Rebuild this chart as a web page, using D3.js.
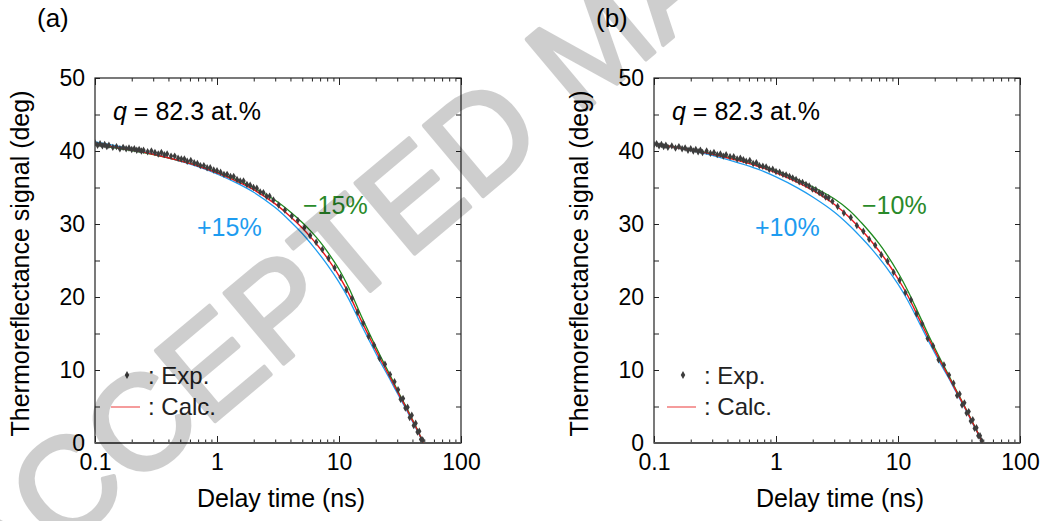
<!DOCTYPE html>
<html><head><meta charset="utf-8">
<script src="https://cdn.jsdelivr.net/npm/d3@7"></script>
<style>
body{margin:0;background:#fff}
svg{display:block}
text{font-family:"Liberation Sans",Arial,Helvetica,sans-serif}
</style>
</head><body>
<svg id="chart" width="1045" height="521"></svg>
<script>
// ---------- data ----------
const panelLabels = ["(a)", "(b)"];
const xTickValues = [0.1, 1, 10, 100];
const xTickLabels = ["0.1", "1", "10", "100"];
const yTickValues = [0, 10, 20, 30, 40, 50];
const yTickLabels = ["0", "10", "20", "30", "40", "50"];
const xTitle = "Delay time (ns)";
const yTitle = "Thermoreflectance signal (deg)";
const compositionText = " = 82.3 at.%";
const plusLabels = ["+15%", "+10%"];
const minusLabels = ["\u221215%", "\u221210%"];
const legendLabels = [": Exp.", ": Calc."];
const watermarkText = "ACCEPTED MANUSCRIPT";

// delay times (ns) of the measured points
const expTime = [0.100,0.105,0.110,0.115,0.120,0.125,0.130,0.140,0.150,0.160,0.170,0.180,0.190,0.200,0.210,0.220,0.230,0.240,0.250,0.270,0.290,0.310,0.330,0.350,0.370,0.390,0.420,0.450,0.480,0.510,0.540,0.570,0.610,0.650,0.690,0.730,0.780,0.830,0.880,0.940,1.00,1.07,1.14,1.21,1.29,1.37,1.46,1.55,1.65,1.76,1.87,1.99,2.12,2.26,2.40,2.55,2.70,2.90,3.20,3.60,4.10,4.60,5.20,5.80,6.50,7.30,8.20,9.20,10.3,11.5,12.8,14.2,15.8,17.5,19.4,21.5,23.8,26.2,28.5,30.5,32.0,33.5,35.0,36.5,38.0,39.5,41.0,42.5,44.0,45.5,47.0,48.5];
// measured signal (deg), panel (a)
const expA = [41.1,40.8,41.0,40.7,40.9,40.6,40.8,40.5,40.6,40.3,40.5,40.3,40.4,40.2,40.3,40.1,40.2,40.0,40.1,39.9,40.0,39.8,39.6,39.8,39.5,39.6,39.3,39.3,39.0,38.9,38.9,38.6,38.7,38.4,38.3,38.0,38.0,37.7,37.7,37.4,37.3,37.1,36.8,36.8,36.5,36.5,36.1,35.9,35.9,35.4,35.3,35.0,34.9,34.4,34.3,33.8,33.8,33.3,32.6,31.9,31.1,30.5,29.5,28.4,27.5,26.5,25.3,24.0,22.7,21.0,19.8,17.9,16.4,14.6,13.4,11.6,10.8,9.4,8.4,7.3,6.0,6.1,4.8,4.9,3.5,3.8,2.4,2.7,1.5,1.6,0.5,0.4];
// measured signal (deg), panel (b)
const expB = [40.9,41.0,40.7,40.9,40.6,40.8,40.5,40.7,40.4,40.6,40.3,40.4,40.1,40.3,40.0,40.2,39.9,40.1,39.8,40.0,39.7,39.8,39.5,39.6,39.3,39.5,39.2,39.2,38.9,39.0,38.8,38.6,38.7,38.3,38.4,38.0,37.9,37.8,37.5,37.5,37.2,37.1,36.8,36.7,36.5,36.3,36.1,35.8,35.7,35.4,35.2,34.8,34.7,34.3,34.1,33.7,33.6,33.1,32.4,31.5,30.9,29.8,29.0,27.9,27.1,25.8,24.9,23.4,22.3,20.6,19.6,17.7,16.3,14.3,13.3,11.4,10.7,9.3,8.2,6.5,6.7,5.2,5.5,4.1,4.3,3.0,3.2,2.0,2.1,1.0,1.0,0.3];

// calculated curves
const calcTime = [0.1,0.15,0.2,0.3,0.5,0.7,1,1.5,2,3,4,5,6,7,8,10,12,15,18,22,26,30,35,40,45,49];
const calcA  = [41.0,40.5,40.15,39.55,38.65,37.95,37.0,35.75,34.7,32.75,31.0,29.45,28.0,26.65,25.35,22.9,20.5,17.0,14.3,11.4,9.1,7.1,5.0,3.1,1.4,0.0];
const plusA  = [41.25,40.7,40.3,39.6,38.6,37.85,36.85,35.5,34.35,32.25,30.35,28.7,27.15,25.75,24.45,22.05,19.75,16.4,13.8,11.0,8.8,6.85,4.8,2.95,1.3,-0.05];
const minusA = [40.85,40.38,40.05,39.5,38.65,38.0,37.1,35.95,35.0,33.25,31.65,30.2,28.85,27.55,26.25,23.8,21.3,17.65,14.8,11.8,9.4,7.3,5.15,3.2,1.45,0.0];
const calcB  = [41.0,40.5,40.15,39.55,38.65,37.95,37.0,35.7,34.6,32.7,30.9,29.2,27.7,26.3,25.0,22.5,20.2,16.9,14.2,11.35,9.1,7.1,5.0,3.1,1.4,0.0];
const plusB  = [41.05,40.5,40.1,39.4,38.35,37.55,36.45,34.95,33.7,31.65,29.8,28.15,26.7,25.35,24.1,21.75,19.55,16.4,13.8,11.05,8.9,6.95,4.9,3.0,1.35,-0.05];
const minusB = [41.0,40.52,40.2,39.65,38.8,38.15,37.3,36.1,35.1,33.45,31.85,30.2,28.7,27.3,25.95,23.35,20.9,17.45,14.6,11.65,9.3,7.25,5.1,3.15,1.45,0.0];

// ---------- drawing ----------
const svg = d3.select("#chart");
const W = 1045, H = 521;
svg.append("rect").attr("width", W).attr("height", H).attr("fill", "#fff");

const panels = [
  {left: 95,  exp: expA, calc: calcA, plus: plusA, minus: minusA},
  {left: 654, exp: expB, calc: calcB, plus: plusB, minus: minusB}
];
const plotTop = 78, plotBottom = 443, pw = 366;
const colors = {exp: "#3d3d3d", calc: "#e8141c", plus: "#1e9cf0", minus: "#1e8a1e", legendLine: "#ee5a5a"};

const minorTicks = [];
[0.1, 1, 10].forEach(d => { for (let k = 2; k <= 9; k++) minorTicks.push(+(d * k).toPrecision(3)); });
const yMinor = [5, 15, 25, 35, 45];

panels.forEach((p, i) => {
  const x = d3.scaleLog().domain([0.1, 100]).range([p.left, p.left + pw]);
  const y = d3.scaleLinear().domain([0, 50]).range([plotBottom, plotTop]);
  const g = svg.append("g");

  const clipId = "clip" + i;
  svg.append("clipPath").attr("id", clipId).append("rect")
    .attr("x", p.left).attr("y", plotTop).attr("width", pw).attr("height", plotBottom - plotTop);

  // axes (inward ticks)
  g.append("g").attr("transform", `translate(0,${plotBottom})`)
    .call(d3.axisBottom(x).tickValues(xTickValues).tickFormat((d, k) => xTickLabels[k]).tickSizeInner(-7).tickSizeOuter(0).tickPadding(11));
  g.append("g").attr("transform", `translate(0,${plotBottom})`)
    .call(d3.axisBottom(x).tickValues(minorTicks).tickFormat("").tickSizeInner(-3.5).tickSizeOuter(0));
  g.append("g").attr("transform", `translate(0,${plotTop})`)
    .call(d3.axisTop(x).tickValues(xTickValues).tickFormat("").tickSizeInner(-7).tickSizeOuter(0));
  g.append("g").attr("transform", `translate(0,${plotTop})`)
    .call(d3.axisTop(x).tickValues(minorTicks).tickFormat("").tickSizeInner(-3.5).tickSizeOuter(0));
  g.append("g").attr("transform", `translate(${p.left},0)`)
    .call(d3.axisLeft(y).tickValues(yTickValues).tickFormat((d, k) => yTickLabels[k]).tickSizeInner(-5).tickSizeOuter(0).tickPadding(10));
  g.append("g").attr("transform", `translate(${p.left},0)`)
    .call(d3.axisLeft(y).tickValues(yMinor).tickFormat("").tickSizeInner(-5).tickSizeOuter(0));
  g.append("g").attr("transform", `translate(${p.left + pw},0)`)
    .call(d3.axisRight(y).tickValues(yTickValues.concat(yMinor)).tickFormat("").tickSizeInner(-5).tickSizeOuter(0));

  g.selectAll(".domain").remove();
  g.selectAll(".tick line").attr("stroke", "#222").attr("stroke-width", 1);
  g.selectAll(".tick text").attr("font-size", 23).attr("fill", "#000")
    .style("font-family", '"Liberation Sans",Arial,sans-serif');

  // frame
  g.append("rect").attr("x", p.left).attr("y", plotTop).attr("width", pw).attr("height", plotBottom - plotTop)
    .attr("fill", "none").attr("stroke", "#222").attr("stroke-width", 1.2);
  g.append("line").attr("x1", p.left).attr("x2", p.left + pw).attr("y1", plotBottom).attr("y2", plotBottom)
    .attr("stroke", "#555").attr("stroke-width", 2);

  // curves
  const mk = d3.line().x(d => x(d[0])).y(d => y(d[1])).curve(d3.curveCatmullRom.alpha(0.5));
  const dg = g.append("g").attr("clip-path", `url(#${clipId})`);
  [["plus", p.plus], ["minus", p.minus], ["calc", p.calc]].forEach(([key, arr]) => {
    dg.append("path").datum(calcTime.map((t, k) => [t, arr[k]]))
      .attr("d", mk).attr("fill", "none").attr("stroke", colors[key])
      .attr("stroke-width", key === "calc" ? 1.4 : 1.3);
  });
  // measured points
  const sym = d3.symbol().type(d3.symbolDiamond).size(16);
  dg.selectAll("path.pt").data(expTime.map((t, k) => [t, p.exp[k]])).enter()
    .append("path").attr("class", "pt").attr("d", sym)
    .attr("transform", d => `translate(${x(d[0])},${y(d[1])})`)
    .attr("fill", colors.exp);

  // texts
  svg.append("text").attr("x", p.left - 58).attr("y", 27).attr("font-size", 26).text(panelLabels[i]);
  svg.append("text").attr("x", p.left + pw / 2 + 3).attr("y", 507).attr("text-anchor", "middle")
    .attr("font-size", 25).text(xTitle);
  svg.append("text").attr("transform", `translate(${p.left - 66},${(plotTop + plotBottom) / 2 + 3}) rotate(-90)`)
    .attr("text-anchor", "middle").attr("font-size", 25).text(yTitle);
  const qt = svg.append("text").attr("x", p.left + 18).attr("y", 120).attr("font-size", 25);
  qt.append("tspan").attr("font-style", "italic").text("q");
  qt.append("tspan").text(compositionText);
  svg.append("text").attr("x", p.left + 102 + (i ? -1 : 0)).attr("y", 236).attr("font-size", 25)
    .attr("fill", colors.plus).text(plusLabels[i]);
  svg.append("text").attr("x", p.left + 208).attr("y", 214).attr("font-size", 25)
    .attr("fill", "#2a8a2a").text(minusLabels[i]);

  // legend
  const lx = p.left + (i ? 29 : 32);
  svg.append("path").attr("d", d3.symbol().type(d3.symbolDiamond).size(18))
    .attr("transform", `translate(${lx},375)`).attr("fill", colors.exp);
  svg.append("line").attr("x1", lx - 16).attr("x2", lx + 13).attr("y1", 407).attr("y2", 407)
    .attr("stroke", colors.legendLine).attr("stroke-width", 1.2);
  svg.append("text").attr("x", lx + 21).attr("y", 384).attr("font-size", 24).attr("fill", "#222").text(legendLabels[0]);
  svg.append("text").attr("x", lx + 21).attr("y", 415).attr("font-size", 24).attr("fill", "#222").text(legendLabels[1]);
});

// watermark (light grey, over the figure)
svg.append("g").attr("opacity", 0.19)
  .append("text").attr("transform", "translate(-10,610) rotate(-40)")
  .attr("font-size", 134).attr("fill", "#000").attr("stroke", "#000").attr("stroke-width", 4)
  .attr("stroke-linejoin", "round")
  .text(watermarkText);
</script>
</body></html>
